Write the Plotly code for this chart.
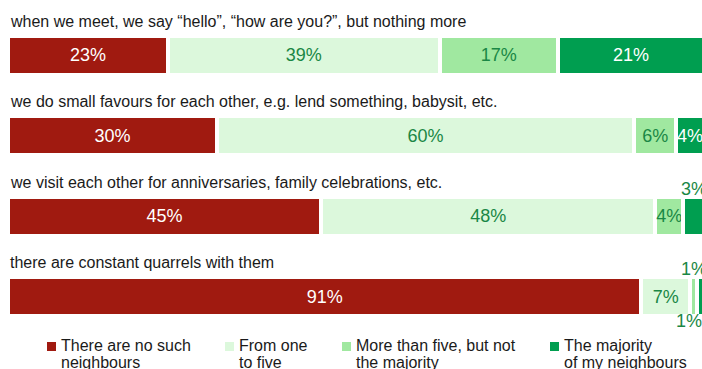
import plotly.graph_objects as go

# Survey statements (one stacked bar each, top to bottom)
statements = [
    "when we meet, we say \u201chello\u201d, \u201chow are you?\u201d, but nothing more",
    "we do small favours for each other, e.g. lend something, babysit, etc.",
    "we visit each other for anniversaries, family celebrations, etc.",
    "there are constant quarrels with them",
]

# Answer categories
series_names = [
    "There are no such<br>neighbours",
    "From one<br>to five",
    "More than five, but not<br>the majority",
    "The majority<br>of my neighbours",
]

# Shares in percent, one list per answer category
no_such = [23, 30, 45, 91]
one_to_five = [39, 60, 48, 7]
more_than_five = [17, 6, 4, 1]
majority = [21, 4, 3, 1]

series_values = [no_such, one_to_five, more_than_five, majority]

bar_colors = ["#A01A10", "#DCF8DC", "#A0E8A0", "#009E50"]
label_colors = ["#FFFFFF", "#1A8745", "#1A8745", "#FFFFFF"]

FONT = "Liberation Sans, Arial, Helvetica, sans-serif"
W, H = 702, 369
ML = 8          # left margin in px
PX_PER_PCT = 6.96
SMALL = 4       # segments below this get their label outside the bar

fig = go.Figure()

for name, vals, col, tcol in zip(series_names, series_values, bar_colors, label_colors):
    fig.add_trace(go.Bar(
        y=statements,
        x=vals,
        orientation="h",
        name=name.replace("<br>", " "),
        marker=dict(color=col, line=dict(color="white", width=4)),
        text=[f"{v}%" for v in vals],
        textposition=["inside" if v >= SMALL else "none" for v in vals],
        insidetextanchor="middle",
        textangle=0,
        constraintext="none",
        insidetextfont=dict(family=FONT, size=18, color=tcol),
        hoverinfo="skip",
        showlegend=False,
    ))

annotations = []

# Statement text above each bar
for s in statements:
    annotations.append(dict(
        x=0, y=s, xref="x", yref="y", text=s, showarrow=False,
        xanchor="left", yanchor="middle", yshift=34,
        font=dict(family=FONT, size=16, color="#1a1a1a"),
    ))

# Labels of thin segments, alternating above / below the bar
for i, s in enumerate(statements):
    base = 0
    n_small = 0
    for k, vals in enumerate(series_values):
        v = vals[i]
        if v < SMALL:
            above = (n_small % 2 == 0)
            annotations.append(dict(
                x=base + v / 2, y=s, xref="x", yref="y", text=f"{v}%",
                showarrow=False, xanchor="center", yanchor="middle",
                yshift=27.5 if above else -24,
                xshift=0 if above else -12,
                font=dict(family=FONT, size=18, color="#1A8745"),
            ))
            n_small += 1
        base += v


def px_to_paper_x(px):
    return (px - ML) / (W - ML)


def px_to_paper_y(py):
    return 1 - py / H


# Legend: colour square plus two-line label
legend_left = [47, 225, 342, 550]
square = 9
legend_baseline = 351
line_step = 17
shapes = []
for left, name, col in zip(legend_left, series_names, bar_colors):
    shapes.append(dict(
        type="rect", xref="paper", yref="paper",
        x0=px_to_paper_x(left), x1=px_to_paper_x(left + square),
        y0=px_to_paper_y(legend_baseline), y1=px_to_paper_y(legend_baseline - square),
        fillcolor=col, line=dict(width=0),
    ))
    for j, line in enumerate(name.split("<br>")):
        annotations.append(dict(
            x=px_to_paper_x(left + 12), y=px_to_paper_y(legend_baseline + j * line_step),
            xref="paper", yref="paper", text=line, showarrow=False,
            xanchor="left", yanchor="middle", yshift=5.5,
            font=dict(family=FONT, size=16, color="#1a1a1a"),
        ))

plot_w = W - ML
fig.update_layout(
    width=W, height=H,
    barmode="stack",
    bargap=0.515,
    margin=dict(l=ML, r=0, t=0, b=0, pad=0),
    plot_bgcolor="white",
    paper_bgcolor="white",
    showlegend=False,
    xaxis=dict(range=[0, plot_w / PX_PER_PCT], visible=False, fixedrange=True),
    yaxis=dict(type="category", categoryorder="array", categoryarray=statements,
               range=[3.901, -0.689], visible=False, fixedrange=True),
    annotations=annotations,
    shapes=shapes,
    font=dict(family=FONT),
)

fig.write_html("out.html")
